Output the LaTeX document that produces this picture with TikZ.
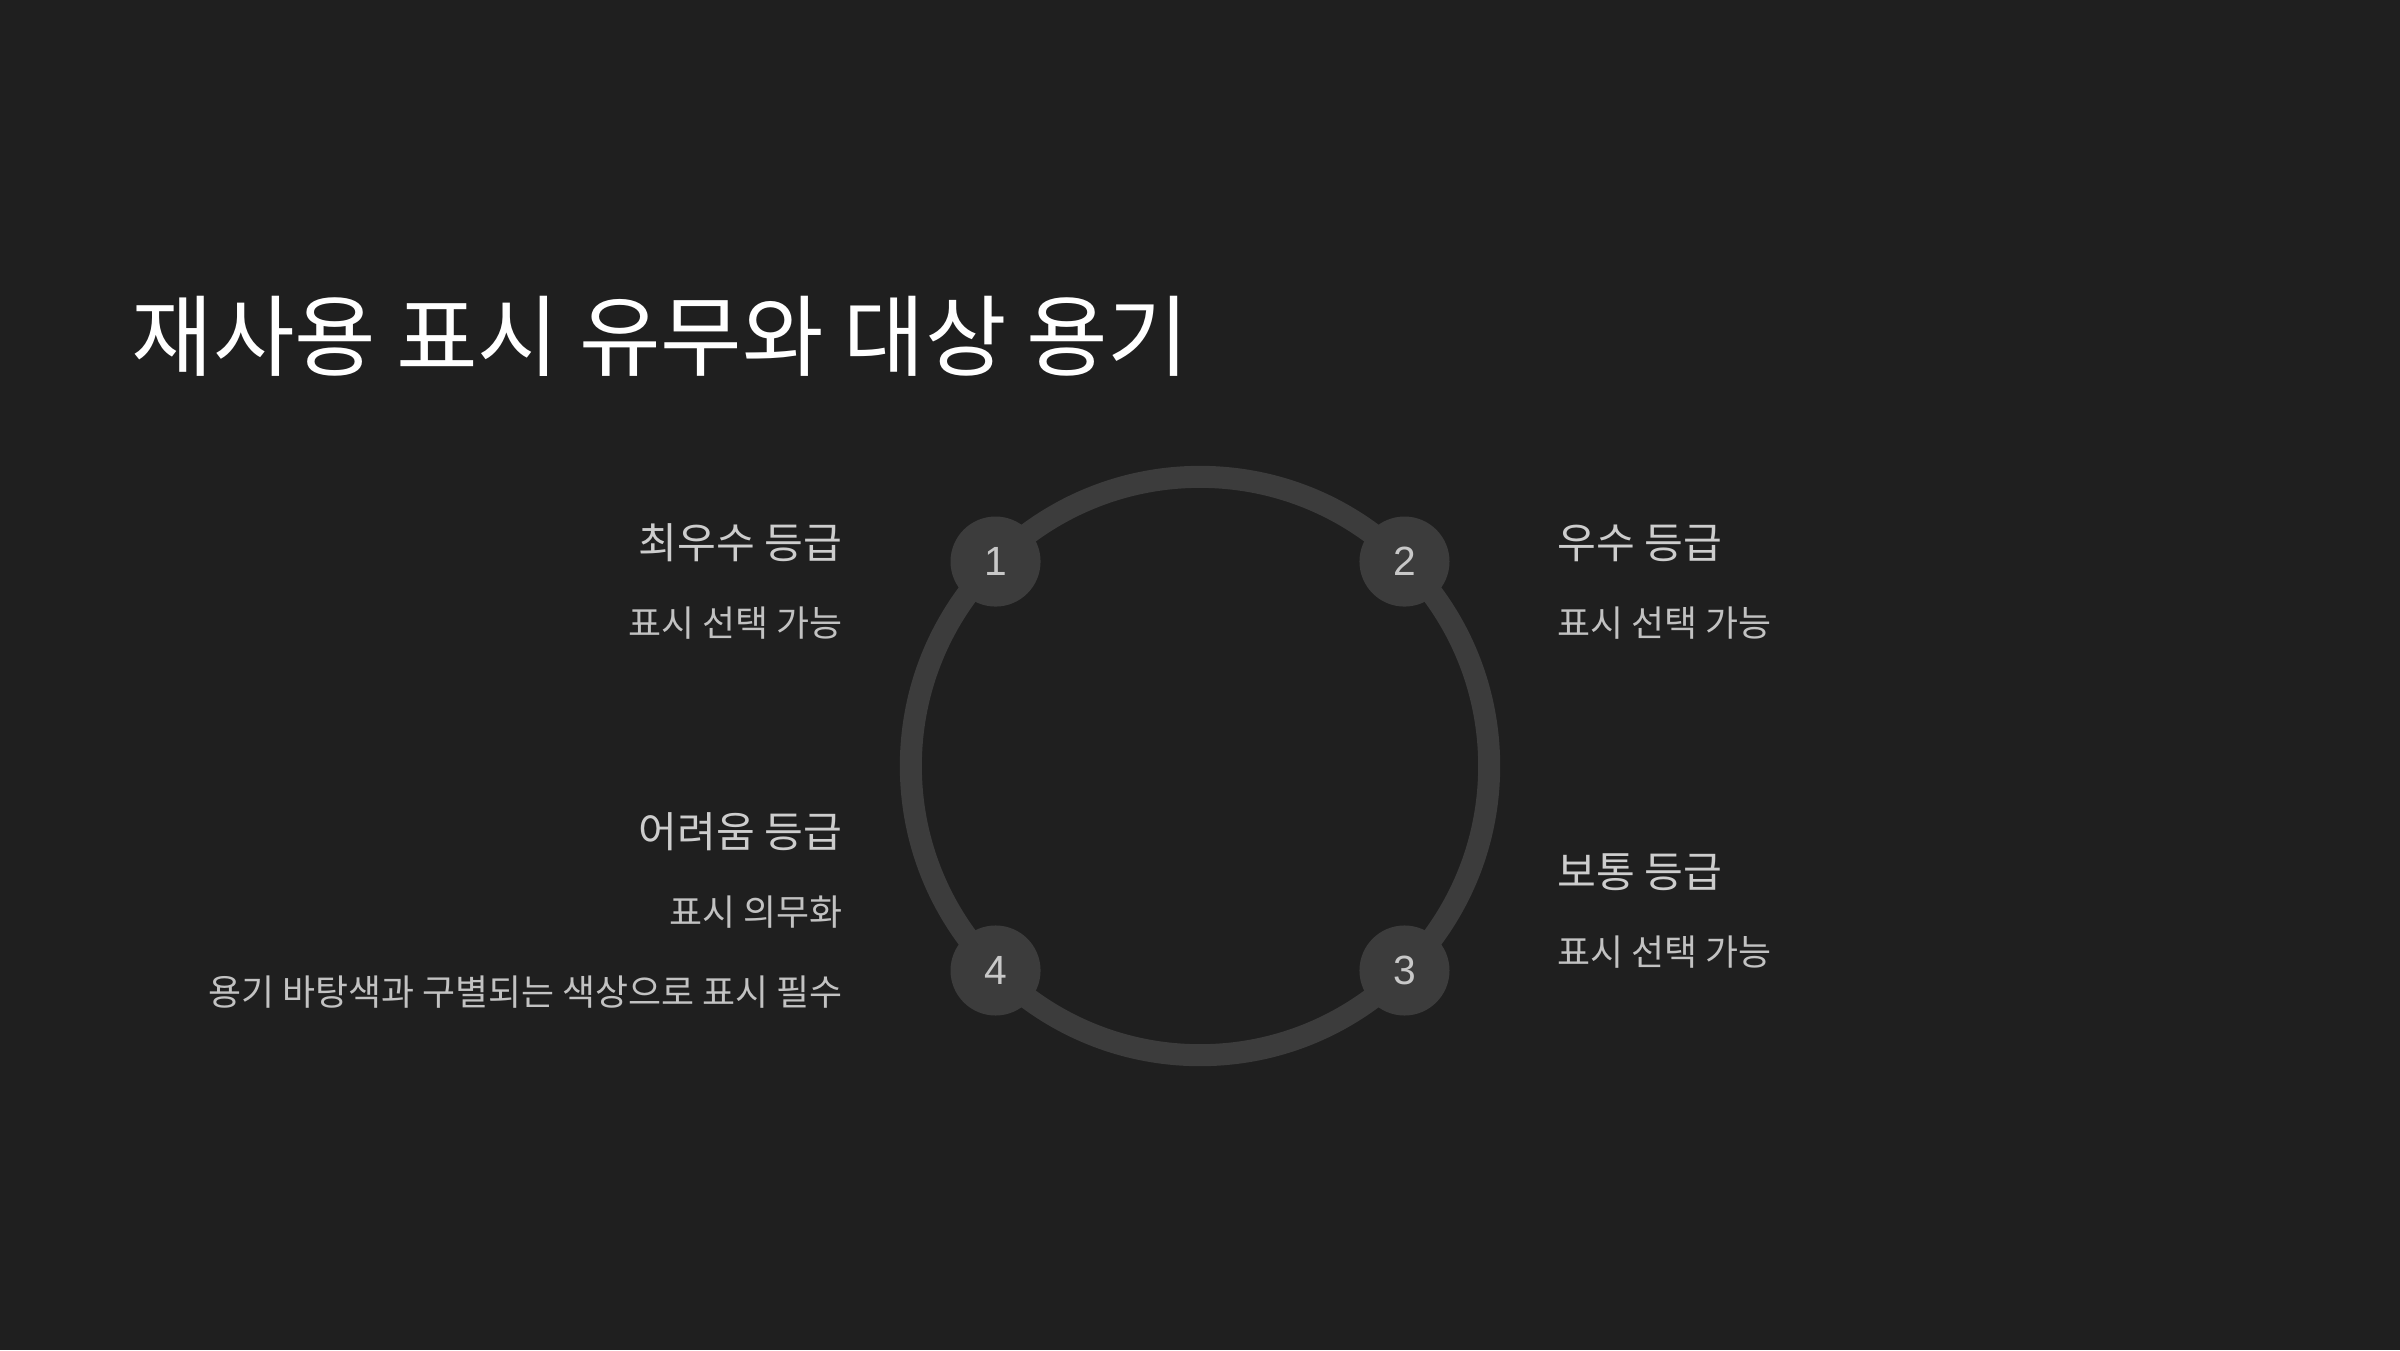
\documentclass[tikz,border=0pt]{standalone}
\usepackage{fontspec}
\setmainfont{Noto Sans CJK KR}
\newfontfamily\numberfont{Liberation Sans}
\usetikzlibrary{positioning}
\definecolor{slide_background}{HTML}{1F1F1F}
\definecolor{ring_colour}{HTML}{3C3C3C}
\definecolor{number_colour}{HTML}{C8C8C8}
\definecolor{heading_colour}{HTML}{CDCDCD}
\definecolor{note_colour}{HTML}{C2C2C2}
\tikzstyle{grade_number} =[circle,fill=ring_colour,text=number_colour,minimum size=0.9cm,inner sep=0pt,font=\numberfont\fontsize{11.6}{13}\selectfont]
\tikzstyle{grade_heading} =[inner sep=0pt,text=heading_colour,font=\fontsize{12}{14}\selectfont]
\tikzstyle{grade_note} =[inner sep=0pt,text=note_colour,font=\fontsize{10.2}{12}\selectfont]

\begin{document}
\begin{tikzpicture}[x=0.01cm,y=-0.01cm,node distance=0.8cm,on grid]

    \fill[slide_background] (0,0) rectangle (2400,1350);
    \useasboundingbox (0,0) rectangle (2400,1350);

    % Title
    \node[anchor=west,inner sep=0pt,text=white,font=\fontsize{25.2}{30}\selectfont] (slide_title) at (131,336) {재사용 표시 유무와 대상 용기};

    % Ring with the four numbered grades
    \coordinate (ring_centre) at (1200,766);
    \draw[ring_colour,line width=0.22cm] (ring_centre) circle [radius=2.89cm];
    \foreach \stepangle/\steplabel in {135/1,45/2,-45/3,-135/4}
        \node[grade_number] (grade_step_\steplabel) at ([shift={(\stepangle:2.89cm)}]ring_centre) {\steplabel};

    % Left column
    \node[grade_heading,anchor=east] (grade_1_heading) at (843,543) {최우수 등급};
    \node[grade_note,below=of grade_1_heading.east,anchor=east] (grade_1_note) {표시 선택 가능};

    \node[grade_heading,anchor=east] (grade_4_heading) at (843,832) {어려움 등급};
    \node[grade_note,below=of grade_4_heading.east,anchor=east] (grade_4_note) {표시 의무화};
    \node[grade_note,below=of grade_4_note.east,anchor=east] (grade_4_extra_note) {용기 바탕색과 구별되는 색상으로 표시 필수};

    % Right column
    \node[grade_heading,anchor=west] (grade_2_heading) at (1557,543) {우수 등급};
    \node[grade_note,below=of grade_2_heading.west,anchor=west] (grade_2_note) {표시 선택 가능};

    \node[grade_heading,anchor=west] (grade_3_heading) at (1557,872) {보통 등급};
    \node[grade_note,below=of grade_3_heading.west,anchor=west] (grade_3_note) {표시 선택 가능};

\end{tikzpicture}
\end{document}
